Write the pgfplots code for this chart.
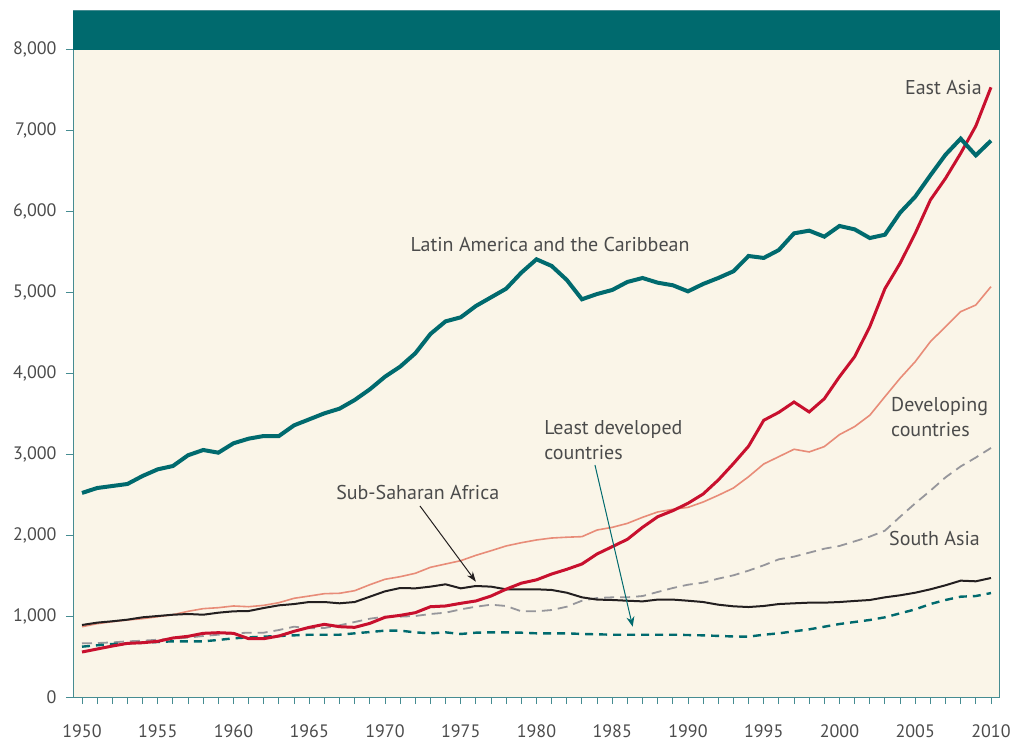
\documentclass[border=0pt]{standalone}
\usepackage{fontspec}
\setmainfont{PT Sans}
\usepackage{pgfplots}
\usepackage{pgfplotstable}
\pgfplotsset{compat=1.18}
\usetikzlibrary{arrows.meta}
\definecolor{cream}{RGB}{250,245,232}
\definecolor{tealc}{RGB}{0,106,110}
\definecolor{axisc}{RGB}{70,140,145}
\definecolor{redc}{RGB}{200,16,46}
\definecolor{salmon}{RGB}{232,140,120}
\definecolor{grayc}{RGB}{150,150,155}
\definecolor{blackc}{RGB}{35,31,32}
\definecolor{textc}{RGB}{75,75,75}

\pgfplotstableread{
year la ea dev ssa sa ldc
1950 2522 556 869 890 663 622
1951 2583 593 906 919 667 639
1952 2608 630 931 936 675 655
1953 2633 663 952 956 688 663
1954 2732 671 968 985 696 671
1955 2814 688 993 1001 708 680
1956 2855 729 1017 1017 721 688
1957 2988 750 1059 1026 733 688
1958 3053 787 1092 1017 754 688
1959 3020 795 1104 1042 770 705
1960 3136 787 1125 1059 787 725
1961 3193 721 1116 1063 795 737
1962 3226 721 1133 1100 795 746
1963 3226 754 1166 1133 828 754
1964 3358 812 1220 1149 869 762
1965 3432 861 1248 1174 849 770
1966 3506 898 1277 1174 853 770
1967 3564 869 1282 1158 886 770
1968 3671 861 1314 1174 927 787
1969 3803 910 1388 1240 968 803
1970 3959 985 1455 1306 993 820
1971 4083 1009 1487 1347 993 820
1972 4248 1042 1529 1343 1001 799
1973 4487 1116 1603 1364 1026 787
1974 4643 1125 1644 1393 1042 799
1975 4693 1158 1685 1343 1083 779
1976 4833 1187 1751 1372 1116 795
1977 4940 1248 1808 1364 1141 799
1978 5047 1333 1867 1331 1125 799
1979 5245 1407 1907 1331 1059 795
1980 5410 1448 1941 1331 1059 787
1981 5328 1520 1965 1323 1075 787
1982 5155 1578 1975 1289 1116 787
1983 4916 1644 1982 1232 1190 779
1984 4981 1768 2064 1204 1224 775
1985 5031 1858 2097 1199 1232 770
1986 5130 1949 2146 1190 1232 770
1987 5179 2097 2221 1182 1248 770
1988 5121 2228 2287 1204 1298 770
1989 5089 2303 2320 1204 1347 770
1990 5014 2394 2344 1190 1388 766
1991 5105 2509 2410 1174 1413 762
1992 5179 2682 2493 1141 1463 755
1993 5262 2885 2583 1121 1504 748
1994 5451 3100 2723 1112 1562 746
1995 5427 3420 2880 1125 1628 770
1996 5525 3519 2971 1149 1702 787
1997 5731 3646 3062 1158 1735 812
1998 5764 3523 3029 1166 1784 836
1999 5690 3687 3095 1166 1833 869
2000 5822 3959 3243 1174 1867 902
2001 5780 4206 3342 1187 1924 927
2002 5673 4577 3482 1199 1982 952
2003 5714 5047 3712 1232 2056 985
2004 5986 5360 3939 1257 2228 1034
2005 6184 5731 4145 1289 2394 1083
2006 6448 6143 4392 1331 2550 1149
2007 6703 6411 4577 1381 2715 1199
2008 6901 6720 4763 1438 2850 1240
2009 6695 7058 4845 1430 2960 1248
2010 6876 7536 5072 1471 3078 1285
}\datatable

\begin{document}
\begin{tikzpicture}[x=1pt,y=1pt]
\useasboundingbox (-73,-45) rectangle (948,697);
\begin{axis}[
  at={(0,0)}, anchor=south west,
  scale only axis, width=926pt, height=686.3pt,
  xmin=1949.406, xmax=2010.53, ymin=0, ymax=8483,
  clip=false,
  axis background/.style={fill=cream},
  axis line style={draw=axisc, line width=0.9pt},
  tick pos=left, tick align=outside,
  major tick length=7pt, minor tick length=7pt,
  tick style={draw=axisc, line width=0.9pt},
  xtick={1950,1955,...,2010}, minor x tick num=4,
  ytick={0,1000,...,8000},
  /pgf/number format/assume math mode=true,
  /pgf/number format/1000 sep={,},
  xticklabel={\pgfmathprintnumber[1000 sep={}]{\tick}},
  ticklabel style={font=\fontsize{18}{21}\selectfont, text=textc},
  xticklabel style={yshift=-17pt},
  yticklabel style={xshift=-6pt},
]
\fill[tealc] (axis cs:1949.406,8000) rectangle (axis cs:2010.6,8483);
\addplot[salmon, line width=1.6pt] table[x=year,y=dev] {\datatable};
\addplot[grayc, line width=1.8pt, dash pattern=on 10pt off 6pt] table[x=year,y=sa] {\datatable};
\addplot[tealc, line width=2.4pt, dash pattern=on 8pt off 6pt] table[x=year,y=ldc] {\datatable};
\addplot[blackc, line width=2pt] table[x=year,y=ssa] {\datatable};
\addplot[redc, line width=3pt] table[x=year,y=ea] {\datatable};
\addplot[tealc, line width=4pt] table[x=year,y=la] {\datatable};

\begin{scope}[every node/.style={font=\fontsize{20}{25}\selectfont, text=textc, inner sep=0pt}]
\node[anchor=east] at (axis cs:2009.4,7528) {East Asia};
\node[anchor=center] at (axis cs:1980.9,5587) {Latin America and the Caribbean};
\node[anchor=west, align=left] at (axis cs:2003.4,3461) {Developing\\countries};
\node[anchor=west] at (axis cs:2003.27,1965) {South Asia};
\node[anchor=west, align=left] at (axis cs:1980.5,3177) {Least developed\\countries};
\node[anchor=west] at (axis cs:1966.77,2522) {Sub-Saharan Africa};
\end{scope}
\draw[blackc, line width=1pt, -{Stealth[length=10pt,width=7pt]}] (axis cs:1972.31,2361) -- (axis cs:1976.0,1425);
\draw[tealc, line width=1pt, -{Stealth[length=10pt,width=8pt]}] (axis cs:1983.86,2868) -- (axis cs:1986.35,869);
\end{axis}
\end{tikzpicture}
\end{document}
